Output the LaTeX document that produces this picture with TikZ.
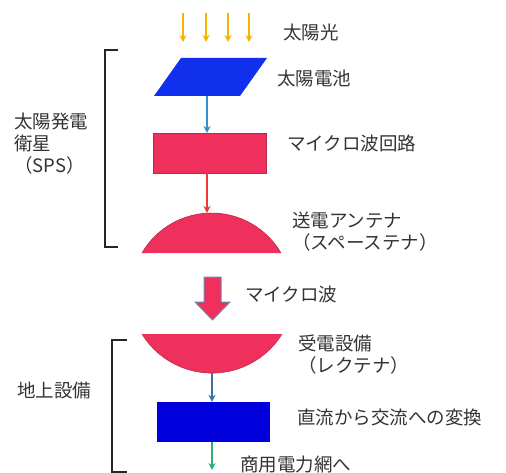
\documentclass[tikz,border=0pt]{standalone}
\usepackage{fontspec}
\setmainfont{Noto Sans CJK JP}
\usetikzlibrary{arrows.meta}
\definecolor{sunc}{HTML}{F5B400}
\definecolor{cellc}{HTML}{1030EE}
\definecolor{crim}{HTML}{F0305C}
\definecolor{crimd}{HTML}{B82848}
\definecolor{rectb}{HTML}{0000DD}
\definecolor{arr1}{HTML}{3090D0}
\definecolor{arr2}{HTML}{F03A30}
\definecolor{arr3}{HTML}{4070A0}
\definecolor{arr4}{HTML}{30B070}
\definecolor{txt}{HTML}{333333}
\tikzset{
  lbl/.style={anchor=west, inner sep=0pt, text=txt, font=\fontsize{18.5}{22}\selectfont, align=left},
  conn/.style={line width=1.2pt, -{Stealth[length=7pt,width=7pt]}},
  crimshape/.style={fill=crim, draw=crimd, line width=0.6pt},
  brk/.style={line width=1.5pt, draw=black!85},
}
\begin{document}
\begin{tikzpicture}[x=1pt,y=-1pt]
\useasboundingbox (0,0) rectangle (506,473);
% sunlight
\foreach \xx/\nm in {183/s1,206/s2,228/s3,249/s4}{
  \coordinate (\nm a) at (\xx,13);
  \coordinate (\nm b) at (\xx,42);
  \draw[sunc, line width=1.3pt, -{Stealth[length=7pt,width=7pt]}] (\nm a) -- (\nm b);
}
\node[lbl] (sun) at (283,32) {太陽光};
% solar cell
\node[inner sep=0pt] (cell) at (210.5,77) {};
\fill[cellc] (181,58) -- (267,58) -- (240,96) -- (154,96) -- cycle;
\coordinate (cellb) at (207,96);
\node[lbl] (celllbl) at (277,78) {太陽電池};
% microwave circuit
\node[crimshape, minimum width=113pt, minimum height=40pt, inner sep=0pt] (mc) at (209.5,153) {};
\node[lbl] (mclbl) at (287,143) {マイクロ波回路};
\draw[conn, arr1] (cellb) -- (207,133);
% transmitting antenna
\coordinate (domeTop) at (207,213);
\fill[crim] (142,253) arc[start angle=210.2, end angle=329.8, radius=80.4] -- cycle;
\draw[crimd, line width=0.6pt] (142,253) arc[start angle=210.2, end angle=329.8, radius=80.4];
\draw[conn, arr2] (207,173) -- (domeTop);
\node[lbl] (ant) at (292,232) {送電アンテナ\\（スペーステナ）};
% bracket SPS
\draw[brk] (118,50) -- (105,50) -- (105,247) -- (118,247);
\node[lbl] (sps) at (14,144) {太陽発電\\衛星\\（SPS）};
% big arrow
\filldraw[fill=crim, draw=arr3!80, line width=1pt] (204,277) -- (221,277) -- (221,302) -- (230,302) -- (212.5,320) -- (195,302) -- (204,302) -- cycle;
\node[lbl] (mw) at (245,294) {マイクロ波};
% rectenna
\fill[crim] (142,334) arc[start angle=148.3, end angle=31.7, radius=82.3] -- cycle;
\draw[crimd, line width=0.6pt] (142,334) arc[start angle=148.3, end angle=31.7, radius=82.3];
\coordinate (dishb) at (212,373);
\node[lbl] (rect) at (298,355) {受電設備\\（レクテナ）};
% DC-AC
\node[fill=rectb, minimum width=113pt, minimum height=40pt, inner sep=0pt] (dcac) at (213.5,422) {};
\draw[conn, arr3] (dishb) -- (dcac.north -| dishb);
\node[lbl] (dclbl) at (297,417) {直流から交流への変換};
% to grid
\coordinate (grid) at (212,470);
\draw[conn, arr4] (dcac.south -| grid) -- (grid);
\node[lbl] (gridlbl) at (240,465) {商用電力網へ};
% bracket ground
\draw[brk] (127,340) -- (112,340) -- (112,472) -- (127,472);
\node[lbl] (gnd) at (17,390) {地上設備};
\end{tikzpicture}
\end{document}
